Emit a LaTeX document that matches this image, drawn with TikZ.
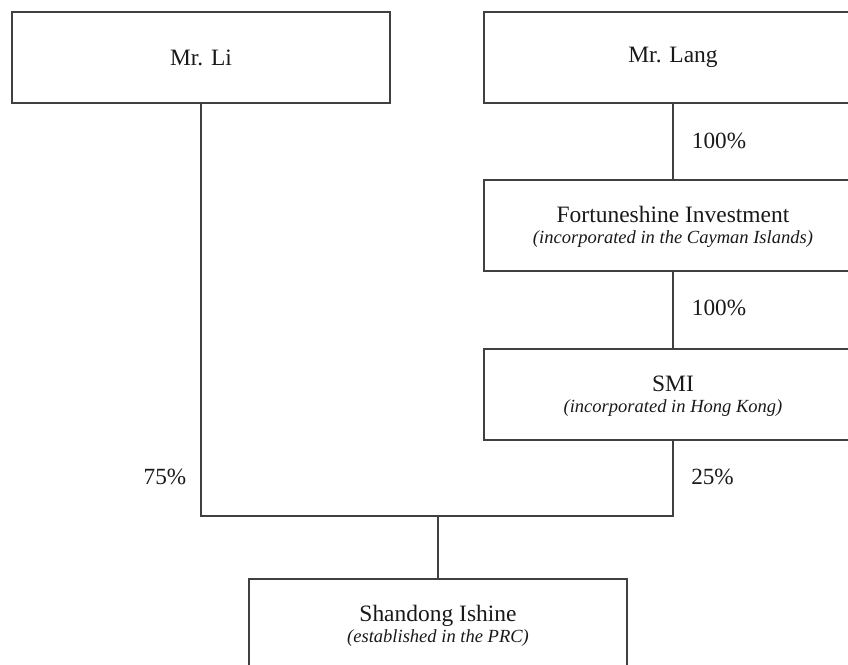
\documentclass[tikz,border=0pt]{standalone}
\usepackage{fontspec}
\setmainfont{Liberation Serif}
\begin{document}
\begin{tikzpicture}[x=0.75pt,y=-0.75pt,
  ent/.style={draw=black!75,line width=0.9pt,rectangle,minimum width=378*0.75pt,minimum height=91*0.75pt,inner sep=0pt,align=center,font=\fontsize{17.6}{15}\selectfont,text=black!90},
  conn/.style={draw=black!75,line width=0.9pt},
  pct/.style={font=\fontsize{17.4}{17.4}\selectfont,text=black!90,inner sep=0pt}]
\useasboundingbox (0,0) rectangle (848,664);
\clip (0,0) rectangle (848,664);
\node[ent] (li) at (201,57.5) {Mr. Li};
\node[ent] (lang) at (673,57.5) {Mr. Lang};
\node[ent] (fi) at (673,225.5) {\rule{0pt}{14pt}Fortuneshine Investment\\[0.5pt]{\fontsize{13.9}{15}\itshape\selectfont (incorporated in the Cayman Islands)}};
\node[ent] (smi) at (673,394.5) {\rule{0pt}{14pt}SMI\\[0.5pt]{\fontsize{13.9}{15}\itshape\selectfont (incorporated in Hong Kong)}};
\node[ent] (sd) at (438,624.5) {\rule{0pt}{14pt}Shandong Ishine\\[0.5pt]{\fontsize{13.9}{15}\itshape\selectfont (established in the PRC)}};
\coordinate (j) at (438,516);
\draw[conn] (lang) -- (fi);
\draw[conn] (fi) -- (smi);
\draw[conn] (li.south) |- (j) -| (smi.south);
\draw[conn] (j) -- (sd.north);
\node[pct] (p1) at (719,141) {100\%};
\node[pct] (p2) at (719,308) {100\%};
\node[pct] (p3) at (712.5,477) {25\%};
\node[pct] (p4) at (165,477) {75\%};
\end{tikzpicture}
\end{document}
